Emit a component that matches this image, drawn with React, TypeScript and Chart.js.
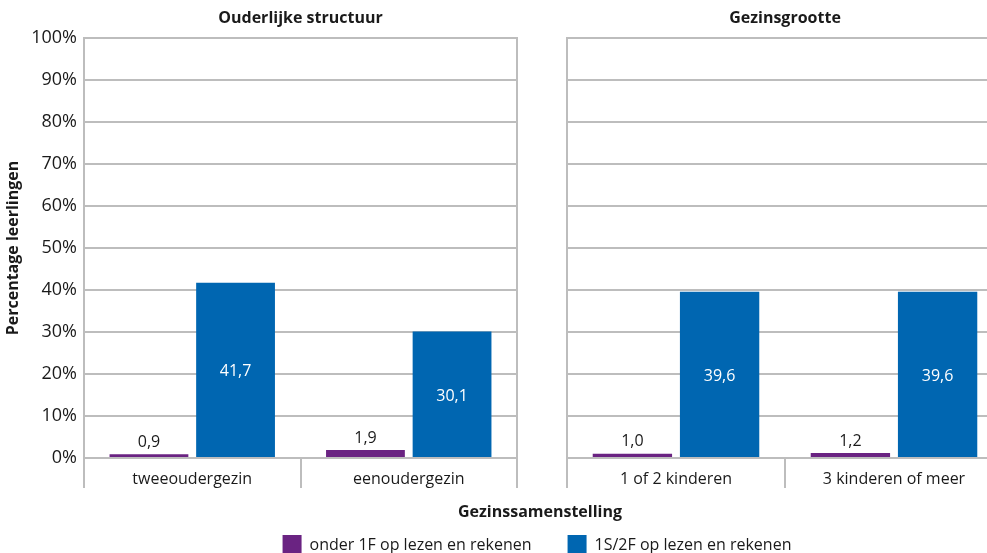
import React, { useEffect, useRef } from "react";
import { Chart, registerables } from "chart.js";

Chart.register(...registerables);

const FONT = "'Open Sans', 'Noto Sans', sans-serif";
const TEXT = "#1a1a1a";
const GRID = "#bdbdbd";

const leftTitle = "Ouderlijke structuur";
const rightTitle = "Gezinsgrootte";
const leftCategories = ["tweeoudergezin", "eenoudergezin"];
const rightCategories = ["1 of 2 kinderen", "3 kinderen of meer"];
const seriesNames = ["onder 1F op lezen en rekenen", "1S/2F op lezen en rekenen"];
const seriesColors = ["#6a2382", "#0066b1"];
const leftOnder1F = [0.9, 1.9];
const left1S2F = [41.7, 30.1];
const rightOnder1F = [1.0, 1.2];
const right1S2F = [39.6, 39.6];
const yMin = 0;
const yMax = 100;
const yStep = 10;
const yTitle = "Percentage leerlingen";
const xTitle = "Gezinssamenstelling";

const fmt = (v: number) => v.toFixed(1).replace(".", ",");

const valueLabels = {
  id: "valueLabels",
  afterDatasetsDraw(chart: any) {
    const ctx = chart.ctx;
    chart.data.datasets.forEach((ds: any, i: number) => {
      const meta = chart.getDatasetMeta(i);
      meta.data.forEach((bar: any, j: number) => {
        const txt = fmt(ds.data[j]);
        ctx.save();
        ctx.font = `16px ${FONT}`;
        ctx.textAlign = "center";
        if (i === 0) {
          ctx.fillStyle = TEXT;
          ctx.textBaseline = "bottom";
          ctx.fillText(txt, bar.x, bar.y - 4);
        } else {
          ctx.fillStyle = "#ffffff";
          ctx.textBaseline = "middle";
          ctx.fillText(txt, bar.x, (bar.y + bar.base) / 2 + 2);
        }
        ctx.restore();
      });
    });
  },
};

const panelTitle = {
  id: "panelTitle",
  afterDraw(chart: any, _args: any, opts: any) {
    const ctx = chart.ctx;
    const a = chart.chartArea;
    ctx.save();
    ctx.font = `bold 16px ${FONT}`;
    ctx.fillStyle = TEXT;
    ctx.textAlign = "center";
    ctx.textBaseline = "middle";
    ctx.fillText(opts.text || "", (a.left + a.right) / 2, 18);
    ctx.restore();
  },
};

function makeConfig(
  categories: string[],
  a: number[],
  b: number[],
  title: string,
  isLeft: boolean
): any {
  const scales: any = {
    x: {
      grid: {
        offset: true,
        drawOnChartArea: false,
        drawTicks: true,
        tickLength: 30,
        color: GRID,
        lineWidth: 2,
      },
      border: { color: GRID, width: 2 },
      ticks: {
        padding: -18,
        font: { family: FONT, size: 16 },
        color: TEXT,
        maxRotation: 0,
        autoSkip: false,
      },
      afterFit: (s: any) => {
        s.height = 95;
      },
    },
    y: {
      min: yMin,
      max: yMax,
      ticks: {
        stepSize: yStep,
        display: isLeft,
        padding: 7,
        callback: (v: any) => v + "%",
        font: { family: FONT, size: 18 },
        color: TEXT,
      },
      grid: { drawTicks: false, color: GRID, lineWidth: 2 },
      border: { color: GRID, width: 2 },
      title: isLeft
        ? {
            display: true,
            text: yTitle,
            font: { family: FONT, size: 16, weight: "bold" },
            color: TEXT,
            padding: { top: 4, bottom: 0 },
          }
        : { display: false },
      afterFit: (s: any) => {
        s.width = isLeft ? 84 : 20;
      },
    },
  };
  if (isLeft) {
    scales.y2 = {
      position: "right",
      display: true,
      min: yMin,
      max: yMax,
      grid: { drawOnChartArea: false, drawTicks: false },
      ticks: { display: false },
      border: { color: GRID, width: 2 },
      afterFit: (s: any) => {
        s.width = 0;
      },
    };
  }
  return {
    type: "bar",
    data: {
      labels: categories,
      datasets: [
        {
          label: seriesNames[0],
          data: a,
          backgroundColor: seriesColors[0],
          categoryPercentage: 0.8,
          barPercentage: 0.91,
        },
        {
          label: seriesNames[1],
          data: b,
          backgroundColor: seriesColors[1],
          categoryPercentage: 0.8,
          barPercentage: 0.91,
        },
      ],
    },
    options: {
      responsive: false,
      maintainAspectRatio: false,
      animation: false,
      devicePixelRatio: 1,
      layout: { padding: { top: 38, right: isLeft ? 13 : 14, left: 0, bottom: 0 } },
      plugins: {
        legend: { display: false },
        tooltip: { enabled: false },
        title: { display: false },
        panelTitle: { text: title },
      },
      scales,
    },
    plugins: [valueLabels, panelTitle],
  };
}

function Panel(props: {
  categories: string[];
  a: number[];
  b: number[];
  title: string;
  isLeft: boolean;
  left: number;
  width: number;
}) {
  const ref = useRef<HTMLCanvasElement | null>(null);
  useEffect(() => {
    if (!ref.current) return;
    const chart = new Chart(
      ref.current,
      makeConfig(props.categories, props.a, props.b, props.title, props.isLeft)
    );
    return () => chart.destroy();
  }, []);
  return (
    <canvas
      ref={ref}
      width={props.width}
      height={553}
      style={{ position: "absolute", left: props.left, top: 0, width: props.width, height: 553 }}
    />
  );
}

export default function App() {
  return (
    <div
      style={{
        position: "fixed",
        left: 0,
        top: 0,
        width: 987,
        height: 553,
        overflow: "hidden",
        background: "#ffffff",
        fontFamily: FONT,
        color: TEXT,
      }}
    >
      <Panel
        categories={leftCategories}
        a={leftOnder1F}
        b={left1S2F}
        title={leftTitle}
        isLeft={true}
        left={0}
        width={530}
      />
      <Panel
        categories={rightCategories}
        a={rightOnder1F}
        b={right1S2F}
        title={rightTitle}
        isLeft={false}
        left={547}
        width={470}
      />
      <div
        style={{
          position: "absolute",
          left: 540,
          top: 500,
          transform: "translateX(-50%)",
          fontWeight: "bold",
          fontSize: 16,
          lineHeight: "22px",
          whiteSpace: "nowrap",
        }}
      >
        {xTitle}
      </div>
      <div
        style={{
          position: "absolute",
          left: 537,
          top: 535,
          transform: "translateX(-50%)",
          display: "flex",
          alignItems: "center",
          gap: 36,
          whiteSpace: "nowrap",
          fontSize: 16,
          lineHeight: "19px",
        }}
      >
        {seriesNames.map((n, i) => (
          <div key={n} style={{ display: "flex", alignItems: "center" }}>
            <span
              style={{
                display: "inline-block",
                width: 19,
                height: 19,
                background: seriesColors[i],
                marginRight: 8,
              }}
            />
            <span>{n}</span>
          </div>
        ))}
      </div>
    </div>
  );
}
